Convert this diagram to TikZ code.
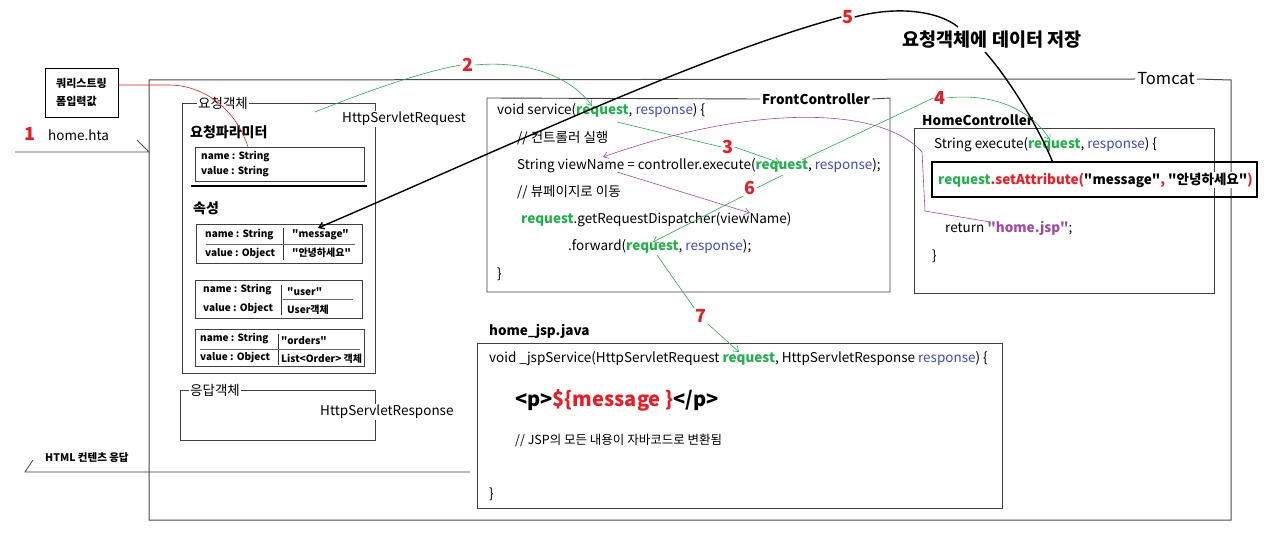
\documentclass[tikz,border=0pt]{standalone}
\usepackage{fontspec}
\setmainfont{Noto Sans CJK KR}[Ligatures=TeXOff]
\usetikzlibrary{arrows.meta}
\definecolor{pgreen}{RGB}{34,177,76}
\definecolor{pblue}{RGB}{63,72,204}
\definecolor{pred}{RGB}{237,28,36}
\definecolor{ppurple}{RGB}{163,73,164}
\newcommand{\myrq}{\textcolor{pgreen}{\bfseries request}}
\newcommand{\myrs}{\textcolor{pblue}{response}}
\begin{document}
\begin{tikzpicture}[x=1pt,y=-1pt,
  txt/.style={anchor=west,inner sep=0pt,font=\fontsize{13.5}{15}\selectfont},
  smalltxt/.style={anchor=west,inner sep=0pt,font=\bfseries\fontsize{10}{11}\selectfont},
  lbl/.style={anchor=west,inner sep=0pt,font=\bfseries\fontsize{13.5}{15}\selectfont},
  num/.style={text=pred,inner sep=1pt,font=\bfseries\fontsize{18}{20}\selectfont},
  frame/.style={draw=black!75,line width=0.9pt},
  gline/.style={draw=pgreen,line width=0.6pt},
  pline/.style={draw=ppurple,line width=0.6pt},
  barb/.style={-{Straight Barb[length=5pt,width=7pt]}}
]
\useasboundingbox (0,0) rectangle (1280,559);
\fill[white] (0,0) rectangle (1280,559);

% Tomcat frame
\node[inner sep=2pt,font=\fontsize{16.5}{18}\selectfont] (tomcat) at (1166,79) {Tomcat};
\draw[draw=black!70,line width=1pt] (tomcat.west) -- (149,80) -- (149,520) -- (1231,520) -- (1231,80) -- (tomcat.east);

% query string box
\node[draw,line width=0.8pt,minimum width=73pt,minimum height=49pt,align=left,inner sep=3pt,
      font=\bfseries\fontsize{11}{18}\selectfont] (qs) at (81.5,92.5) {쿼리스트링\\폼입력값};

% 1 home.hta
\node[num] (n1) at (30,134) {1};
\node[txt] (hta) at (48,135) {home.hta};
\coordinate (inA) at (15,152);
\coordinate (inB) at (149,152);
\coordinate (inT) at (137,140);
\draw[black!70,line width=0.8pt] (inA) -- (inB) -- (inT);

% request object box
\node[anchor=west,inner sep=1pt,font=\fontsize{13.5}{15}\selectfont] (reqlbl) at (197,103) {요청객체};
\draw[frame] (reqlbl.west) -- (182,103) -- (182,373) -- (375,373) -- (375,103) -- (reqlbl.east);
\node[txt,fill=white,inner sep=1pt] (hsr) at (341,119) {HttpServletRequest};

\node[anchor=west,inner sep=0pt,font=\bfseries\fontsize{14}{16}\selectfont] (param) at (190,132) {요청파라미터};
\draw[frame,line width=0.8pt] (195,147) rectangle (364,181);
\node[smalltxt] (pn) at (201,157) {name : String};
\node[smalltxt] (pv) at (201,172) {value : String};
\draw[line width=2pt] (191,186) -- (367,186);

\node[anchor=west,inner sep=0pt,font=\bfseries\fontsize{14}{16}\selectfont] (attr) at (193,208) {속성};

% attribute 1
\draw[frame,line width=0.8pt] (196,224) rectangle (362,263);
\draw[black!80] (283,228) -- (283,260);
\draw[black!60] (206,244) -- (355,244);
\node[smalltxt] (a1n) at (205,235) {name : String};
\node[smalltxt] (a1v) at (205,253) {value : Object};
\node[smalltxt] (a1k) at (292,235) {"message"};
\node[smalltxt] (a1w) at (292,253) {"안녕하세요"};

% attribute 2
\draw[frame,line width=0.8pt] (195,280) rectangle (362,318);
\draw[black!80] (281,285) -- (281,315);
\draw[black!60] (283,299) -- (353,299);
\node[smalltxt] (a2n) at (203,290) {name : String};
\node[smalltxt] (a2v) at (203,308) {value : Object};
\node[smalltxt] (a2k) at (287,292) {"user"};
\node[smalltxt] (a2w) at (287,310) {User객체};

% attribute 3
\draw[frame,line width=0.8pt] (195,329) rectangle (364,366);
\draw[black!80] (278,334) -- (278,365);
\draw[black!60] (200,349) -- (360,349);
\node[smalltxt] (a3n) at (200,339) {name : String};
\node[smalltxt] (a3v) at (200,357) {value : Object};
\node[smalltxt] (a3k) at (281,341) {"orders"};
\node[smalltxt] (a3w) at (281,359) {List<Order> 객체};

% response object box
\node[anchor=west,inner sep=1pt,font=\fontsize{13.5}{15}\selectfont] (reslbl) at (189,390) {응답객체};
\draw[frame] (reslbl.west) -- (180,390) -- (180,440) -- (375,440) -- (375,390) -- (reslbl.east);
\node[txt,fill=white,inner sep=1pt] (hsres) at (319,412) {HttpServletResponse};

% HTML response
\node[anchor=west,inner sep=0pt,font=\bfseries\fontsize{10.5}{12}\selectfont] (html) at (45,458) {HTML 컨텐츠 응답};
\coordinate (outA) at (470,472);
\coordinate (outB) at (25,472);
\coordinate (outT) at (33,460);
\draw[black!75,line width=0.8pt] (outA) -- (outB) -- (outT);

% FrontController
\node[inner sep=2pt,font=\bfseries\fontsize{13.5}{15}\selectfont] (fclbl) at (816,99) {FrontController};
\draw[frame] (fclbl.west) -- (487,98) -- (487,292) -- (890,292) -- (890,98) -- (fclbl.east);
\node[txt] (f1) at (497,111) {void service(\myrq, \myrs) \{};
\node[txt] (f2) at (517,138) {// 컨트롤러 실행};
\node[txt] (f3) at (517,166) {String viewName = controller.execute(\myrq, \myrs);};
\node[txt] (f4) at (517,192) {// 뷰페이지로 이동};
\node[txt] (f5) at (521,220) {\myrq.getRequestDispatcher(viewName)};
\node[txt] (f6) at (568,247) {.forward(\myrq, \myrs);};
\node[txt] (f7) at (497,274) {\}};

% HomeController
\node[lbl] (hclbl) at (922,120) {HomeController};
\draw[frame] (914,128) rectangle (1214,293);
\node[txt] (h1) at (934,145) {String execute(\myrq, \myrs) \{};
\draw[line width=2pt] (932,162) rectangle (1257,197);
\node[anchor=west,inner sep=1pt,fill=white,font=\bfseries\fontsize{13.5}{15}\selectfont] (setattr) at (937,180)
  {\textcolor{pgreen}{request}\textcolor{pred}{.setAttribute(}"message"\textcolor{pred}{, }"안녕하세요"\textcolor{pred}{)}};
\node[txt] (h2) at (945,228) {return \textcolor{ppurple}{\bfseries "home.jsp"};};
\node[txt] (h3) at (932,256) {\}};

% home_jsp.java
\node[lbl] (jsplbl) at (489,331) {home\_jsp.java};
\draw[frame] (477,343) rectangle (1002,508);
\node[txt] (j1) at (489,359) {void \_jspService(HttpServletRequest \myrq, HttpServletResponse \myrs) \{};
\node[anchor=west,inner sep=0pt,font=\bfseries\fontsize{20}{22}\selectfont] (j2) at (515,400) {<p>\textcolor{pred}{\$\{message \}}</p>};
\node[anchor=west,inner sep=0pt,font=\fontsize{12.5}{14}\selectfont] (j3) at (515,440) {// JSP의 모든 내용이 자바코드로 변환됨};
\node[txt] (j4) at (489,494) {\}};

% numbers
\node[num] (n2) at (468,65) {2};
\node[num] (n3) at (728,147) {3};
\node[num] (n4) at (940,98) {4};
\node[num] (n5) at (848,17) {5};
\node[num] (n6) at (750,188) {6};
\node[num] (n7) at (701,316) {7};
\node[inner sep=1pt,font=\bfseries\fontsize{18.5}{20}\selectfont] (store) at (992,40) {요청객체에 데이터 저장};

% coordinates for connectors
\coordinate (qsR) at (118,85);
\coordinate (qsK) at (170,85);
\coordinate (parT) at (248,147);
\coordinate (c2s) at (315,112);
\coordinate (c2e) at (592,106);
\coordinate (c3s) at (617,122);
\coordinate (c3e) at (780,163);
\coordinate (c4s) at (802,160);
\coordinate (c4e) at (1050,140);
\coordinate (c6s) at (783,175);
\coordinate (c6e) at (653,242);
\coordinate (c7s) at (657,255);
\coordinate (c7e) at (739,352);
\coordinate (vn) at (603,157);
\coordinate (vn2) at (617,172);
\coordinate (vnArg) at (750,213);
\coordinate (hj) at (990,222);
\coordinate (hjA) at (925,211);
\coordinate (hjB) at (922,152);
\coordinate (msg) at (318,228);
\coordinate (sa) at (1053,163);
\coordinate (stS) at (985,52);

% red line from query box
\draw[pred,line width=0.6pt] (qsR) -- (qsK) .. controls (210,86) and (238,115) .. (parT);

% 2
\draw[gline] (c2s) .. controls (380,86) and (430,70) .. (n2.west);
\draw[gline,barb] (n2.east) .. controls (530,60) and (572,78) .. (c2e);
% 3
\draw[gline] (c3s) -- (n3.west);
\draw[gline,barb] (n3.east) -- (c3e);
% 4
\draw[gline] (c4s) -- (n4.west);
\draw[gline,barb] (n4.east) .. controls (1000,92) and (1035,115) .. (c4e);
% 6
\draw[gline] (c6s) -- (n6.east);
\draw[gline,barb] (n6.south west) -- (c6e);
% 7
\draw[gline] (c7s) -- (n7.north west);
\draw[gline,barb] (n7.south east) -- (c7e);

% purple
\draw[pline,barb] (hj) -- (hjA) -- (hjB) .. controls (880,105) and (750,105) .. (vn);
\draw[pline,barb] (vn2) -- (vnArg);

% 5 black
\draw[line width=1.4pt,barb] (n5.west) .. controls (700,55) and (500,150) .. (msg);
\draw[line width=1.4pt] (n5.east) .. controls (900,5) and (940,12) .. (958,27);
\draw[line width=1.4pt] (stS) .. controls (1010,80) and (1040,130) .. (sa);
\end{tikzpicture}
\end{document}
